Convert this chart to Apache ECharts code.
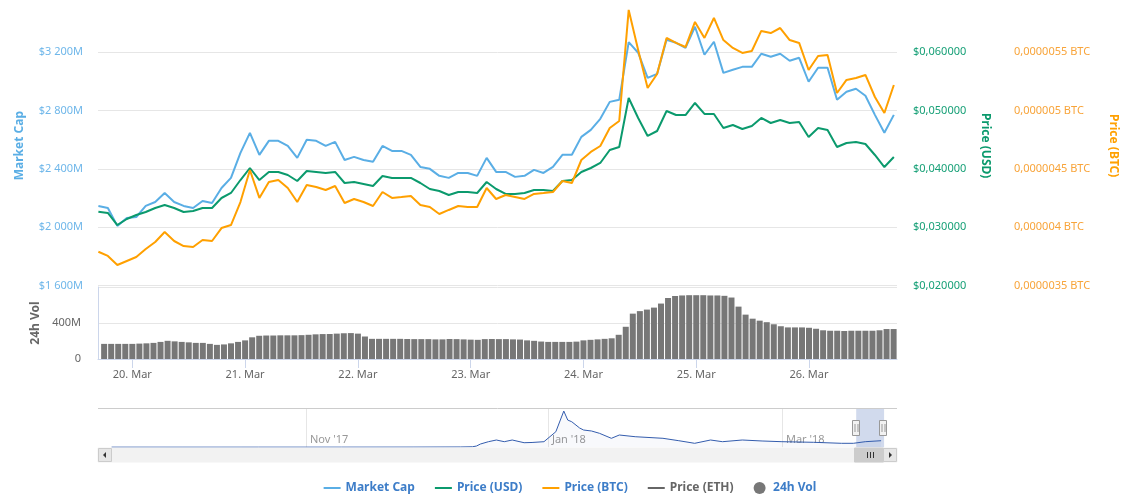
<!DOCTYPE html>
<html>
<head>
<meta charset="utf-8">
<title>Market cap / price / volume</title>
<style>
  html, body { margin: 0; padding: 0; background: #fff; }
  #main { width: 1140px; height: 504px; }
</style>
</head>
<body>
<div id="main"></div>
<script src="https://cdn.jsdelivr.net/npm/echarts@6/dist/echarts.min.js"></script>
<script>
var HOUR = 3600 * 1000;

// visible window of the main chart
var viewMin = new Date(2018, 2, 19, 17, 20).getTime();
var viewMax = new Date(2018, 2, 26, 18, 5).getTime();

// line samples, one every 2 hours starting 19 Mar 17:25
var lineStart = new Date(2018, 2, 19, 17, 25).getTime();
var lineStep = 2 * HOUR;

// market cap, millions of USD
var marketCap = [
  2147, 2133, 2010, 2064, 2071, 2147, 2174, 2236, 2174, 2147,
  2133, 2181, 2167, 2270, 2339, 2510, 2648, 2497, 2593, 2593,
  2558, 2476, 2600, 2593, 2558, 2586, 2462, 2483, 2462, 2449,
  2558, 2524, 2524, 2497, 2414, 2401, 2353, 2339, 2373, 2373,
  2353, 2476, 2380, 2380, 2346, 2353, 2394, 2373, 2414, 2497,
  2497, 2620, 2668, 2744, 2860, 2874, 3270, 3197, 3025, 3052,
  3286, 3265, 3231, 3375, 3183, 3272, 3059, 3080, 3100, 3100,
  3190, 3169, 3190, 3142, 3162, 2998, 3094, 3094, 2874, 2929,
  2950, 2902, 2771, 2648, 2771
];

// price in USD
var priceUsd = [
  0.03268, 0.03246, 0.03040, 0.03143, 0.03212, 0.03263, 0.03332, 0.03383, 0.03332, 0.03263,
  0.03280, 0.03332, 0.03332, 0.03503, 0.03589, 0.03811, 0.04017, 0.03811, 0.03949, 0.03949,
  0.03897, 0.03794, 0.03966, 0.03949, 0.03931, 0.03949, 0.03760, 0.03777, 0.03743, 0.03709,
  0.03880, 0.03846, 0.03846, 0.03846, 0.03760, 0.03657, 0.03623, 0.03554, 0.03606, 0.03606,
  0.03589, 0.03777, 0.03657, 0.03572, 0.03572, 0.03589, 0.03640, 0.03640, 0.03623, 0.03794,
  0.03811, 0.03949, 0.04017, 0.04103, 0.04326, 0.04377, 0.05217, 0.04874, 0.04566, 0.04651,
  0.04994, 0.04925, 0.04925, 0.05131, 0.04943, 0.04943, 0.04703, 0.04754, 0.04686, 0.04737,
  0.04874, 0.04788, 0.04840, 0.04788, 0.04805, 0.04548, 0.04703, 0.04668, 0.04377, 0.04446,
  0.04463, 0.04428, 0.04240, 0.04034, 0.04206
];

// price in BTC, in millionths of a BTC
var priceBtc = [
  3.791, 3.755, 3.677, 3.712, 3.746, 3.814, 3.874, 3.960, 3.883, 3.840,
  3.832, 3.892, 3.883, 3.994, 4.020, 4.217, 4.491, 4.252, 4.389, 4.406,
  4.337, 4.217, 4.363, 4.346, 4.320, 4.354, 4.209, 4.243, 4.217, 4.183,
  4.303, 4.252, 4.260, 4.269, 4.192, 4.174, 4.114, 4.149, 4.183, 4.174,
  4.174, 4.337, 4.243, 4.277, 4.260, 4.243, 4.286, 4.294, 4.303, 4.397,
  4.380, 4.577, 4.646, 4.697, 4.851, 4.911, 5.863, 5.520, 5.194, 5.314,
  5.623, 5.580, 5.545, 5.760, 5.623, 5.794, 5.605, 5.537, 5.494, 5.511,
  5.683, 5.665, 5.708, 5.605, 5.580, 5.348, 5.468, 5.477, 5.151, 5.263,
  5.280, 5.306, 5.117, 4.980, 5.220
];

// 24h volume, millions of USD, one bar every 90 minutes from 19 Mar 18:00
var volStart = new Date(2018, 2, 19, 18).getTime();
var volStep = 1.5 * HOUR;
var volume24h = [
  168, 168, 168, 168, 168, 171, 174, 179, 190, 202,
  196, 190, 185, 179, 179, 168, 157, 162, 174, 190,
  207, 241, 258, 261, 261, 263, 263, 263, 265, 269,
  274, 277, 278, 282, 286, 288, 282, 250, 224, 224,
  224, 224, 224, 222, 221, 221, 221, 218, 218, 222,
  221, 218, 215, 213, 221, 222, 221, 221, 218, 216,
  207, 202, 194, 190, 190, 190, 190, 193, 207, 213,
  218, 224, 230, 269, 358, 504, 532, 549, 571, 616,
  678, 700, 706, 709, 709, 709, 706, 706, 702, 683,
  582, 493, 448, 426, 409, 386, 364, 351, 351, 351,
  347, 336, 319, 314, 314, 311, 314, 314, 314, 314,
  319, 333, 333
];

// navigator: long-range market cap, millions of USD
var navDates = [
  '2017-09-13', '2017-10-01', '2017-10-20', '2017-11-10', '2017-11-28', '2017-12-10',
  '2017-12-13', '2017-12-14', '2017-12-15', '2017-12-17', '2017-12-19', '2017-12-21',
  '2017-12-23', '2017-12-26', '2017-12-28', '2017-12-31', '2018-01-03', '2018-01-05',
  '2018-01-06', '2018-01-07', '2018-01-09', '2018-01-10', '2018-01-12', '2018-01-14',
  '2018-01-17', '2018-01-19', '2018-01-23', '2018-01-30', '2018-02-03', '2018-02-07',
  '2018-02-11', '2018-02-14', '2018-02-19', '2018-02-24', '2018-03-01', '2018-03-09',
  '2018-03-16', '2018-03-19', '2018-03-22', '2018-03-26'
];
var navCap = [
  60, 55, 60, 70, 90, 150,
  250, 590, 1500, 2550, 3320, 2550,
  3320, 2090, 2200, 2550, 7100, 16500,
  12400, 11650, 8780, 7870, 7420, 6370,
  4100, 5600, 4820, 4100, 3000, 1820,
  3320, 2550, 3320, 2870, 2550, 2275,
  1820, 1820, 2550, 3000
];
var navMin = new Date(2017, 8, 13).getTime();
var navMax = viewMax;

var capColor = '#5aaee5', usdColor = '#0b9a6d', btcColor = '#ffa000', ethColor = '#666666', volColor = '#777777';
var months = ['Jan', 'Feb', 'Mar', 'Apr', 'May', 'Jun', 'Jul', 'Aug', 'Sep', 'Oct', 'Nov', 'Dec'];
var font = 'Noto Sans';
var lineIcon = 'path://M0,0L17,0L17,2L0,2Z';

function parseDay(s) {
  var p = s.split('-');
  return new Date(+p[0], +p[1] - 1, +p[2]).getTime();
}
function withTimes(values, start, step) {
  return values.map(function (v, i) { return [start + i * step, v]; });
}

var option = {
  animation: false,
  textStyle: { fontFamily: font },
  legend: {
    top: 477,
    left: 'center',
    itemGap: 20,
    itemWidth: 17,
    itemHeight: 12,
    symbolKeepAspect: true,
    selectedMode: false,
    textStyle: { fontSize: 12, fontWeight: 'bold', fontFamily: font, color: '#3d7dc8' },
    data: [
      { name: 'Market Cap', icon: lineIcon },
      { name: 'Price (USD)', icon: lineIcon },
      { name: 'Price (BTC)', icon: lineIcon },
      { name: 'Price (ETH)', icon: lineIcon, textStyle: { color: '#666666' } },
      { name: '24h Vol', icon: 'circle' }
    ]
  },
  grid: [
    { left: 98, width: 799, top: 5.6, height: 280.1 },
    { left: 98, width: 799, top: 287, height: 72 },
    { left: 111.6, width: 772.5, top: 408, height: 39.3 }
  ],
  xAxis: [
    { type: 'time', gridIndex: 0, min: viewMin, max: viewMax, show: false },
    {
      type: 'time', gridIndex: 1, min: viewMin, max: viewMax, splitNumber: 5,
      axisLine: { lineStyle: { color: '#ccd6eb' } },
      axisTick: { length: 9, lineStyle: { color: '#ccd6eb' } },
      splitLine: { show: false },
      axisLabel: {
        color: '#666666', fontSize: 11, margin: 10, showMinLabel: false, showMaxLabel: false,
        formatter: function (v) { var d = new Date(v); return d.getDate() + '. ' + months[d.getMonth()]; }
      }
    },
    {
      type: 'time', gridIndex: 2, min: navMin, max: navMax, splitNumber: 3,
      axisLine: { show: false },
      axisTick: { show: false },
      splitLine: { show: true, showMinLine: false, showMaxLine: false, lineStyle: { color: '#e6e6e6' } },
      axisLabel: {
        inside: true, align: 'left', margin: 2, padding: [0, 0, 0, 4],
        color: '#999999', fontSize: 11, showMinLabel: false, showMaxLabel: false,
        formatter: function (v) {
          var d = new Date(v);
          return months[d.getMonth()] + " '" + String(d.getFullYear()).slice(2);
        }
      }
    }
  ],
  yAxis: [
    {
      type: 'value', gridIndex: 0, min: 1600, max: 3520, interval: 400,
      name: 'Market Cap', nameLocation: 'middle', nameGap: 72,
      nameTextStyle: { color: capColor, fontSize: 12, fontWeight: 'bold' },
      axisLine: { show: false }, axisTick: { show: false },
      splitLine: { showMaxLine: false, lineStyle: { color: '#e6e6e6' } },
      axisLabel: {
        color: '#6fb7ea', fontSize: 11, margin: 15, showMaxLabel: false,
        formatter: function (v) {
          return '$' + String(Math.round(v)).replace(/\B(?=(\d{3})+(?!\d))/g, ' ') + 'M';
        }
      }
    },
    {
      type: 'value', gridIndex: 0, position: 'right', min: 0.02, max: 0.068, interval: 0.01,
      name: 'Price (USD)', nameLocation: 'middle', nameGap: 82, nameRotate: -90,
      nameTextStyle: { color: usdColor, fontSize: 12, fontWeight: 'bold' },
      axisLine: { show: false }, axisTick: { show: false }, splitLine: { show: false },
      axisLabel: {
        color: '#17a077', fontSize: 11, margin: 16, showMaxLabel: false,
        formatter: function (v) { return '$' + v.toFixed(6).replace('.', ','); }
      }
    },
    {
      type: 'value', gridIndex: 0, position: 'right', offset: 101, min: 3.5, max: 5.9, interval: 0.5,
      name: 'Price (BTC)', nameLocation: 'middle', nameGap: 109, nameRotate: -90,
      nameTextStyle: { color: btcColor, fontSize: 12, fontWeight: 'bold' },
      axisLine: { show: false }, axisTick: { show: false }, splitLine: { show: false },
      axisLabel: {
        color: '#f8a43a', fontSize: 11, margin: 16, showMaxLabel: false,
        formatter: function (v) {
          return (v / 1e6).toFixed(7).replace(/0+$/, '').replace('.', ',') + ' BTC';
        }
      }
    },
    {
      type: 'value', gridIndex: 1, min: 0, max: 800, interval: 400,
      name: '24h Vol', nameLocation: 'middle', nameGap: 55,
      nameTextStyle: { color: '#666666', fontSize: 12, fontWeight: 'bold' },
      axisLine: { show: true, lineStyle: { color: '#ccd6eb' } }, axisTick: { show: false },
      splitLine: { showMinLine: false, lineStyle: { color: '#e6e6e6' } },
      axisLabel: {
        color: '#666666', fontSize: 11, margin: 17, showMaxLabel: false,
        formatter: function (v) { return v === 0 ? '0' : v + 'M'; }
      }
    },
    { type: 'value', gridIndex: 2, min: 0, max: 17900, show: false }
  ],
  series: [
    {
      name: 'Market Cap', type: 'line', xAxisIndex: 0, yAxisIndex: 0, symbol: 'none',
      color: capColor, lineStyle: { width: 2, color: capColor },
      data: withTimes(marketCap, lineStart, lineStep)
    },
    {
      name: 'Price (USD)', type: 'line', xAxisIndex: 0, yAxisIndex: 1, symbol: 'none',
      color: usdColor, lineStyle: { width: 2, color: usdColor },
      data: withTimes(priceUsd, lineStart, lineStep)
    },
    {
      name: 'Price (BTC)', type: 'line', xAxisIndex: 0, yAxisIndex: 2, symbol: 'none',
      color: btcColor, lineStyle: { width: 2, color: btcColor },
      data: withTimes(priceBtc, lineStart, lineStep)
    },
    {
      name: 'Price (ETH)', type: 'line', xAxisIndex: 0, yAxisIndex: 0, symbol: 'none',
      color: ethColor, lineStyle: { width: 2, color: ethColor },
      data: []
    },
    {
      name: '24h Vol', type: 'bar', xAxisIndex: 1, yAxisIndex: 3, barWidth: 6,
      color: volColor, itemStyle: { color: volColor },
      data: withTimes(volume24h, volStart, volStep)
    },
    {
      name: 'nav', type: 'line', xAxisIndex: 2, yAxisIndex: 4, symbol: 'none', silent: true,
      lineStyle: { width: 1, color: '#335cad' },
      areaStyle: { color: 'rgba(51,92,173,0.05)' },
      data: navDates.map(function (d, i) { return [parseDay(d), navCap[i]]; }),
      markArea: {
        silent: true,
        itemStyle: { color: 'rgba(102,133,194,0.3)' },
        data: [[{ xAxis: viewMin }, { xAxis: viewMax }]]
      }
    }
  ]
};

var chart = echarts.init(document.getElementById('main'));
chart.setOption(option);

// navigator outline, handles and scrollbar
var xl = Math.round(chart.convertToPixel({ xAxisIndex: 2 }, viewMin)) + 0.5;
var xr = Math.round(chart.convertToPixel({ xAxisIndex: 2 }, viewMax)) - 0.5;
var sbTop = 448, sbH = 14, sbLeft = 98, sbRight = 897;

function handle(x) {
  return [
    { type: 'rect', shape: { x: x - 4, y: 420.5, width: 7, height: 15 }, style: { fill: '#f2f2f2', stroke: '#999999', lineWidth: 1 } },
    { type: 'line', shape: { x1: x - 1.5, y1: 424, x2: x - 1.5, y2: 432 }, style: { stroke: '#999999', lineWidth: 1 } },
    { type: 'line', shape: { x1: x + 1.5, y1: 424, x2: x + 1.5, y2: 432 }, style: { stroke: '#999999', lineWidth: 1 } }
  ];
}

var thumbMid = Math.round((xl + xr) / 2) + 0.5;
var elements = [
  { type: 'line', shape: { x1: 98, y1: 408.5, x2: 897, y2: 408.5 }, style: { stroke: '#cccccc', lineWidth: 1 } },
  // track
  { type: 'rect', shape: { x: sbLeft, y: sbTop, width: sbRight - sbLeft, height: sbH }, style: { fill: '#f2f2f2', stroke: '#f2f2f2' } },
  // thumb
  { type: 'rect', shape: { x: xl - 2, y: sbTop, width: xr - xl + 2, height: sbH }, style: { fill: '#cccccc', stroke: '#cccccc' } },
  { type: 'line', shape: { x1: thumbMid - 3, y1: sbTop + 4, x2: thumbMid - 3, y2: sbTop + 10 }, style: { stroke: '#333333', lineWidth: 1 } },
  { type: 'line', shape: { x1: thumbMid, y1: sbTop + 4, x2: thumbMid, y2: sbTop + 10 }, style: { stroke: '#333333', lineWidth: 1 } },
  { type: 'line', shape: { x1: thumbMid + 3, y1: sbTop + 4, x2: thumbMid + 3, y2: sbTop + 10 }, style: { stroke: '#333333', lineWidth: 1 } },
  // buttons
  { type: 'rect', shape: { x: sbLeft + 0.5, y: sbTop + 0.5, width: 13, height: sbH - 1 }, style: { fill: '#e6e6e6', stroke: '#cccccc', lineWidth: 1 } },
  { type: 'polygon', shape: { points: [[sbLeft + 5, sbTop + 7], [sbLeft + 8, sbTop + 4], [sbLeft + 8, sbTop + 10]] }, style: { fill: '#333333' } },
  { type: 'rect', shape: { x: sbRight - 13.5, y: sbTop + 0.5, width: 13, height: sbH - 1 }, style: { fill: '#e6e6e6', stroke: '#cccccc', lineWidth: 1 } },
  { type: 'polygon', shape: { points: [[sbRight - 5, sbTop + 7], [sbRight - 8, sbTop + 4], [sbRight - 8, sbTop + 10]] }, style: { fill: '#333333' } }
].concat(handle(xl), handle(xr));

chart.setOption({
  graphic: elements.map(function (e) { e.z = 100; e.silent = true; return e; })
});
</script>
</body>
</html>
